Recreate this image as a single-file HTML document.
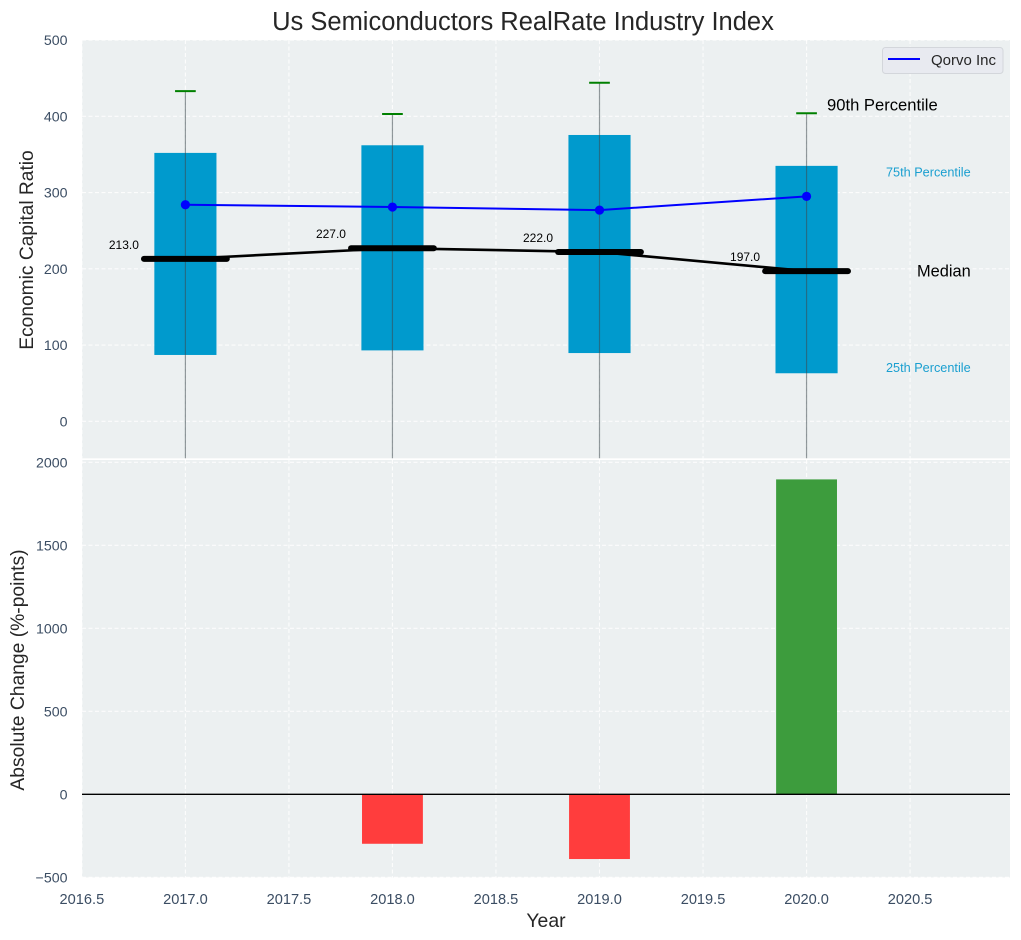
<!DOCTYPE html>
<html>
<head>
<meta charset="utf-8">
<title>Us Semiconductors RealRate Industry Index</title>
<style>
html,body{margin:0;padding:0;background:#fff;}
svg{display:block;font-family:"Liberation Sans",Arial,sans-serif;}
</style>
</head>
<body>
<svg id="chart" xmlns="http://www.w3.org/2000/svg" width="1021" height="940" viewBox="0 0 1021 940">
<text x="523" y="30" text-anchor="middle" font-size="25.5" fill="#262626">Us Semiconductors RealRate Industry Index</text>
<g id="top"></g>
<g id="bottom"></g>
<text transform="translate(33,250) rotate(-90)" text-anchor="middle" font-size="19.2" fill="#262626">Economic Capital Ratio</text>
<text transform="translate(24,670) rotate(-90)" text-anchor="middle" font-size="19.3" fill="#262626">Absolute Change (%-points)</text>
<text x="546" y="927" text-anchor="middle" font-size="19.4" fill="#262626">Year</text>
<g>
<rect x="882.5" y="47.5" width="120.5" height="26" rx="3" fill="#e8eaf0" stroke="#d3d6db"/>
<line x1="888" y1="59" x2="920" y2="59" stroke="#0000ff" stroke-width="2"/>
<text x="931" y="65" font-size="15" fill="#262626">Qorvo Inc</text>
</g>
</svg>
<script>
const years = [2017, 2018, 2019, 2020];
const p10 = [-70, -70, -70, -70];
const p25 = [87, 93, 89.5, 63];
const p75 = [352, 362, 375.5, 335];
const p90 = [433, 403, 444, 404];
const medians = [213, 227, 222, 197];
const company = [284, 281, 277, 295];
const changes = [0, -298, -390, 1897];
const xTicks = [2016.5, 2017, 2017.5, 2018, 2018.5, 2019, 2019.5, 2020, 2020.5];
const topTicks = [0, 100, 200, 300, 400, 500];
const bottomTicks = [-500, 0, 500, 1000, 1500, 2000];

const NS = 'http://www.w3.org/2000/svg';
const left = 82, right = 1010;
const topY0 = 40, topY1 = 458.3, botY0 = 460, botY1 = 877.5;
const x = v => 185.4 + (v - 2017) * 207.05;
const yTop = v => 421.3 - v * 0.7625;
const yBot = v => 794.3 - v * 0.166;

function mk(parent, tag, attrs, text) {
  const el = document.createElementNS(NS, tag);
  for (const k in attrs) el.setAttribute(k, attrs[k]);
  if (text !== undefined) el.textContent = text;
  parent.appendChild(el);
  return el;
}
const topG = document.getElementById('top');
const botG = document.getElementById('bottom');
const tickColor = '#3b4d63';
const grid = {stroke: '#ffffff', 'stroke-width': 1.1, 'stroke-dasharray': '4 2.5', opacity: 0.85};
let el;

function background(g, y0, y1, name) {
  el = mk(g, 'rect', {x: left, y: y0, width: right - left, height: y1 - y0, fill: '#ecf0f1'});
  
  
}
background(topG, topY0, topY1, 'top-plot-background');
background(botG, botY0, botY1, 'bottom-plot-background');

function gridAndTicks(g, y0, y1, yf, ticks, showX) {
  xTicks.forEach(t => {
    el = mk(g, 'line', Object.assign({x1: x(t), x2: x(t), y1: y0, y2: y1}, grid));
    
    
    if (showX) {
      el = mk(g, 'text', {x: x(t), y: 904, 'text-anchor': 'middle', 'font-size': 14.6, fill: tickColor}, t.toFixed(1));
      
      
    }
  });
  ticks.forEach(t => {
    el = mk(g, 'line', Object.assign({x1: left, x2: right, y1: yf(t), y2: yf(t)}, grid));
    
    
    el = mk(g, 'text', {x: 67.5, y: yf(t) + 5, 'text-anchor': 'end', 'font-size': 14.2, fill: tickColor}, String(t).replace('-', '\u2212'));
    
    
  });
}
gridAndTicks(topG, topY0, topY1, yTop, topTicks, false);
gridAndTicks(botG, botY0, botY1, yBot, bottomTicks, true);

years.forEach((yr, i) => {
  el = mk(topG, 'rect', {x: x(yr - 0.15), y: yTop(p75[i]), width: x(yr + 0.15) - x(yr - 0.15), height: yTop(p25[i]) - yTop(p75[i]), fill: '#009acd'});
  
  
  el = mk(topG, 'line', {x1: x(yr), x2: x(yr), y1: yTop(p90[i]), y2: Math.min(yTop(p10[i]), topY1), stroke: '#3c4a4f', 'stroke-width': 1.2, opacity: 0.55});
  
  
  el = mk(topG, 'line', {x1: x(yr - 0.05), x2: x(yr + 0.05), y1: yTop(p90[i]), y2: yTop(p90[i]), stroke: '#008000', 'stroke-width': 2});
  
  
});

el = mk(topG, 'polyline', {points: years.map((yr, i) => x(yr) + ',' + yTop(medians[i])).join(' '), fill: 'none', stroke: '#000', 'stroke-width': 2.6});



years.forEach((yr, i) => {
  el = mk(topG, 'line', {x1: x(yr - 0.2), x2: x(yr + 0.2), y1: yTop(medians[i]), y2: yTop(medians[i]), stroke: '#000', 'stroke-width': 6, 'stroke-linecap': 'round'});
  
  
  el = mk(topG, 'text', {x: x(yr - 0.297), y: yTop(medians[i]) - 10, 'text-anchor': 'middle', 'font-size': 12, fill: '#000'}, medians[i].toFixed(1));
  
  
});

el = mk(topG, 'polyline', {points: years.map((yr, i) => x(yr) + ',' + yTop(company[i])).join(' '), fill: 'none', stroke: '#0000ff', 'stroke-width': 2});


years.forEach((yr, i) => {
  el = mk(topG, 'circle', {cx: x(yr), cy: yTop(company[i]), r: 4.6, fill: '#0000ff'});
  
  
});

el = mk(topG, 'text', {x: 827, y: yTop(p90[3]) - 3, 'font-size': 16.6, fill: '#000'}, '90th Percentile');


el = mk(topG, 'text', {x: 886, y: yTop(p75[3]) + 10.5, 'font-size': 12.7, fill: '#1a9fd0'}, '75th Percentile');


el = mk(topG, 'text', {x: 917, y: yTop(medians[3]) + 5.5, 'font-size': 16.4, fill: '#000'}, 'Median');


el = mk(topG, 'text', {x: 886, y: yTop(p25[3]) - 1.5, 'font-size': 12.7, fill: '#1a9fd0'}, '25th Percentile');



years.forEach((yr, i) => {
  const v = changes[i];
  if (v === 0) return;
  el = mk(botG, 'rect', {x: x(yr - 0.147), y: Math.min(yBot(v), yBot(0)), width: x(yr + 0.147) - x(yr - 0.147), height: Math.abs(yBot(v) - yBot(0)), fill: v > 0 ? '#3d9c3d' : '#ff3d3d'});
  
  
});
el = mk(botG, 'line', {x1: left, x2: right, y1: yBot(0), y2: yBot(0), stroke: '#000', 'stroke-width': 1.3});


</script>
</body>
</html>
